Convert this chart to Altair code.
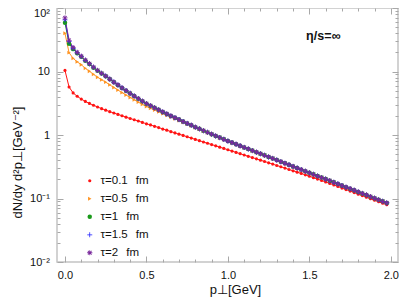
import altair as alt
import pandas as pd

# transverse momentum grid (GeV)
p_perp = [0.0, 0.025, 0.05, 0.075, 0.1, 0.125, 0.15, 0.175, 0.2, 0.225,
          0.25, 0.275, 0.3, 0.325, 0.35, 0.375, 0.4, 0.425, 0.45, 0.475,
          0.5, 0.525, 0.55, 0.575, 0.6, 0.625, 0.65, 0.675, 0.7, 0.725,
          0.75, 0.775, 0.8, 0.825, 0.85, 0.875, 0.9, 0.925, 0.95, 0.975,
          1.0, 1.025, 1.05, 1.075, 1.1, 1.125, 1.15, 1.175, 1.2, 1.225,
          1.25, 1.275, 1.3, 1.325, 1.35, 1.375, 1.4, 1.425, 1.45, 1.475,
          1.5, 1.525, 1.55, 1.575, 1.6, 1.625, 1.65, 1.675, 1.7, 1.725,
          1.75, 1.775, 1.8, 1.825, 1.85, 1.875, 1.9, 1.925, 1.95, 1.975]

tau_01 = [10.4, 5.70, 4.60, 4.07, 3.68, 3.38, 3.14, 2.94, 2.76, 2.60,
          2.46, 2.33, 2.22, 2.11, 2.01, 1.91, 1.82, 1.74, 1.66, 1.58,
          1.50, 1.44, 1.37, 1.31, 1.24, 1.19, 1.13, 1.08, 1.03, 0.984,
          0.938, 0.895, 0.853, 0.815, 0.776, 0.741, 0.706, 0.675, 0.643, 0.614,
          0.585, 0.558, 0.532, 0.508, 0.484, 0.462, 0.441, 0.421, 0.401, 0.383,
          0.365, 0.348, 0.331, 0.316, 0.301, 0.286, 0.273, 0.260, 0.248, 0.236,
          0.224, 0.213, 0.202, 0.192, 0.182, 0.173, 0.163, 0.155, 0.146, 0.138,
          0.131, 0.124, 0.117, 0.111, 0.105, 0.0993, 0.0940, 0.0889, 0.0841, 0.0796]

tau_05 = [40.0, 19.8, 16.1, 14.2, 12.8, 11.2, 10.1, 9.01, 8.11, 7.41,
          6.79, 6.16, 5.59, 5.10, 4.65, 4.25, 3.90, 3.58, 3.29, 3.03,
          2.81, 2.63, 2.47, 2.32, 2.17, 2.04, 1.91, 1.80, 1.69, 1.58,
          1.48, 1.40, 1.31, 1.24, 1.16, 1.09, 1.02, 0.958, 0.901, 0.846,
          0.796, 0.755, 0.712, 0.673, 0.635, 0.600, 0.566, 0.534, 0.505, 0.477,
          0.450, 0.425, 0.401, 0.378, 0.357, 0.337, 0.318, 0.300, 0.284, 0.268,
          0.253, 0.239, 0.225, 0.213, 0.201, 0.190, 0.179, 0.169, 0.159, 0.150,
          0.142, 0.134, 0.126, 0.119, 0.113, 0.106, 0.100, 0.0950, 0.0897, 0.0847]

tau_1 = [58.5, 27.4, 22.5, 19.3, 17.0, 14.8, 13.1, 11.5, 10.3, 9.28,
         8.41, 7.54, 6.77, 6.10, 5.50, 4.98, 4.51, 4.10, 3.73, 3.40,
         3.11, 2.89, 2.68, 2.49, 2.31, 2.15, 2.00, 1.87, 1.75, 1.63,
         1.52, 1.43, 1.33, 1.25, 1.17, 1.10, 1.03, 0.968, 0.910, 0.855,
         0.804, 0.759, 0.716, 0.676, 0.638, 0.603, 0.569, 0.537, 0.507, 0.479,
         0.452, 0.427, 0.403, 0.380, 0.359, 0.339, 0.320, 0.302, 0.285, 0.269,
         0.254, 0.240, 0.226, 0.214, 0.202, 0.191, 0.180, 0.170, 0.160, 0.151,
         0.143, 0.135, 0.127, 0.120, 0.114, 0.107, 0.101, 0.0955, 0.0902, 0.0851]

tau_15 = [65.0, 29.5, 23.2, 19.7, 17.3, 15.0, 13.2, 11.7, 10.4, 9.38,
          8.49, 7.60, 6.82, 6.14, 5.53, 5.00, 4.53, 4.11, 3.74, 3.41,
          3.12, 2.89, 2.68, 2.49, 2.31, 2.15, 2.00, 1.87, 1.75, 1.63,
          1.52, 1.43, 1.33, 1.25, 1.17, 1.10, 1.03, 0.968, 0.910, 0.855,
          0.804, 0.759, 0.716, 0.676, 0.638, 0.603, 0.569, 0.537, 0.507, 0.479,
          0.452, 0.427, 0.403, 0.380, 0.359, 0.339, 0.320, 0.302, 0.285, 0.269,
          0.254, 0.240, 0.226, 0.214, 0.202, 0.191, 0.180, 0.170, 0.160, 0.151,
          0.143, 0.135, 0.127, 0.120, 0.114, 0.107, 0.101, 0.0955, 0.0902, 0.0851]

tau_2 = [70.0, 30.9, 23.7, 20.0, 17.5, 15.1, 13.3, 11.7, 10.4, 9.38,
         8.49, 7.60, 6.82, 6.14, 5.53, 5.00, 4.53, 4.11, 3.74, 3.41,
         3.12, 2.89, 2.68, 2.49, 2.31, 2.15, 2.00, 1.87, 1.75, 1.63,
         1.52, 1.43, 1.33, 1.25, 1.17, 1.10, 1.03, 0.968, 0.910, 0.855,
         0.804, 0.759, 0.716, 0.676, 0.638, 0.603, 0.569, 0.537, 0.507, 0.479,
         0.452, 0.427, 0.403, 0.380, 0.359, 0.339, 0.320, 0.302, 0.285, 0.269,
         0.254, 0.240, 0.226, 0.214, 0.202, 0.191, 0.180, 0.170, 0.160, 0.151,
         0.143, 0.135, 0.127, 0.120, 0.114, 0.107, 0.101, 0.0955, 0.0902, 0.0851]

series_labels = ["τ=0.1\u2002\u2009fm", "τ=0.5\u2002\u2009fm", "τ=1\u2002\u2009fm",
                 "τ=1.5\u2002\u2009fm", "τ=2\u2002\u2009fm"]
series_values = [tau_01, tau_05, tau_1, tau_15, tau_2]
series_colors = ["#ff1414", "#ff9422", "#1a9a1a", "#1a1aff", "#7a2a9c"]
PLUS = ("M-1,-0.15L-0.15,-0.15L-0.15,-1L0.15,-1L0.15,-0.15L1,-0.15"
        "L1,0.15L0.15,0.15L0.15,1L-0.15,1L-0.15,0.15L-1,0.15Z")
ASTER = ("M-0.95,-0.15L-0.15,-0.15L-0.15,-0.95L0.15,-0.95L0.15,-0.15L0.95,-0.15"
         "L0.95,0.15L0.15,0.15L0.15,0.95L-0.15,0.95L-0.15,0.15L-0.95,0.15Z"
         "M-0.566,-0.778L0,-0.212L0.566,-0.778L0.778,-0.566L0.212,0L0.778,0.566"
         "L0.566,0.778L0,0.212L-0.566,0.778L-0.778,0.566L-0.212,0L-0.778,-0.566Z")
series_shapes = ["circle", "triangle-right", "circle", PLUS, ASTER]
series_sizes = [10, 30, 14, 38, 50]

x_ticks = [0, 0.1, 0.2, 0.3, 0.4, 0.5, 0.6, 0.7, 0.8, 0.9, 1, 1.1, 1.2, 1.3,
           1.4, 1.5, 1.6, 1.7, 1.8, 1.9, 2]
y_ticks = [0.01, 0.02, 0.03, 0.04, 0.05, 0.06, 0.07, 0.08, 0.09,
           0.1, 0.2, 0.3, 0.4, 0.5, 0.6, 0.7, 0.8, 0.9,
           1, 2, 3, 4, 5, 6, 7, 8, 9,
           10, 20, 30, 40, 50, 60, 70, 80, 90, 100]

annot_text = ["η/s=∞"]
annot_x = [1.585]
annot_y = [36.7]

rows = []
for lab, col, vals in zip(series_labels, series_colors, series_values):
    assert len(vals) == len(p_perp)
    for x, v in zip(p_perp, vals):
        rows.append({"p": x, "v": v, "series": lab, "col": col})
df = pd.DataFrame(rows)
df_annot = pd.DataFrame({"t": annot_text, "x": annot_x, "y": annot_y})

FONT = "Liberation Sans"
TICK_COLOR = "#a8a8a8"
X_MAJOR = "indexof([0,0.5,1,1.5,2], datum.value) >= 0"
Y_MAJOR = "indexof([0.01,0.1,1,10,100], datum.value) >= 0"
x_tick_size = {"expr": f"{X_MAJOR} ? -6 : -3"}
y_tick_size = {"expr": f"{Y_MAJOR} ? -6 : -3"}

x_scale = alt.Scale(domain=[-0.049, 2.044], nice=False, zero=False)
y_scale = alt.Scale(type="log", domain=[0.01, 100], nice=False)

y_label_expr = ("datum.value == 100 ? '10²' : datum.value == 10 ? '10' : "
                "datum.value == 1 ? '1' : datum.value == 0.1 ? '10⁻¹' : "
                "datum.value == 0.01 ? '10⁻²' : ''")

x_axis_bottom = alt.Axis(
    orient="bottom", values=x_ticks, tickSize=x_tick_size, tickColor=TICK_COLOR,
    tickWidth=1, domain=False, grid=False, labelOverlap=False, labelFlush=False,
    labelExpr=f"{X_MAJOR} ? format(datum.value, '.1f') : ''",
    labelPadding=13, labelFont=FONT, labelFontSize=11, labelColor="#111",
    title="p⊥[GeV]", titleFont=FONT, titleFontSize=13, titleFontWeight="normal",
    titleColor="#111", titleX=178, titleY=27, titleBaseline="middle", titleAlign="center")
y_axis_left = alt.Axis(
    orient="left", values=y_ticks, tickSize=y_tick_size, tickColor=TICK_COLOR,
    tickWidth=1, domain=False, grid=False, labelOverlap=False, labelFlush=False,
    labelExpr=y_label_expr, labelOffset={"expr": "datum.value >= 99 ? 5 : 0"},
    labelPadding=13.5, labelFont=FONT, labelFontSize=11, labelColor="#111",
    title="dN/dy d²p⊥[GeV⁻²]", titleFont=FONT, titleFontSize=13,
    titleFontWeight="normal", titleColor="#111", titleX=-40, titleY=154,
    titleBaseline="middle", titleAlign="center", titleAngle=270)
x_axis_top = alt.Axis(
    orient="top", values=x_ticks, tickSize=x_tick_size, tickColor=TICK_COLOR,
    tickWidth=1, domain=False, grid=False, labels=False, title=None)
y_axis_right = alt.Axis(
    orient="right", values=y_ticks, tickSize=y_tick_size, tickColor=TICK_COLOR,
    tickWidth=1, domain=False, grid=False, labels=False, title=None)

legend = alt.Legend(
    title=None, orient="none", legendX=27, legendY=167, padding=0, rowPadding=5,
    labelOffset=5, labelFont=FONT, labelFontSize=11.5, labelColor="#111")

lines = alt.Chart(df).mark_line(strokeWidth=1, clip=True).encode(
    x=alt.X("p:Q", scale=x_scale, axis=x_axis_bottom),
    y=alt.Y("v:Q", scale=y_scale, axis=y_axis_left),
    color=alt.Color("col:N", scale=None),
    detail="series:N",
    order=alt.Order("p:Q"),
)

points = alt.Chart(df).mark_point(filled=True, strokeWidth=0, opacity=1, clip=True).encode(
    x=alt.X("p:Q", scale=x_scale, axis=x_axis_top),
    y=alt.Y("v:Q", scale=y_scale, axis=y_axis_right),
    color=alt.Color("series:N", scale=alt.Scale(domain=series_labels, range=series_colors), legend=legend),
    shape=alt.Shape("series:N", scale=alt.Scale(domain=series_labels, range=series_shapes), legend=legend),
    size=alt.Size("series:N", scale=alt.Scale(domain=series_labels, range=series_sizes), legend=legend),
)

annot = alt.Chart(df_annot).mark_text(font=FONT, fontSize=12.5, fontWeight="bold", color="#111").encode(
    x=alt.X("x:Q", scale=x_scale, axis=None),
    y=alt.Y("y:Q", scale=y_scale, axis=None),
    text="t:N",
)

chart = alt.layer(lines, points, annot).resolve_axis(
    x="independent", y="independent"
).properties(
    width=341, height=254,
    autosize=alt.AutoSizeParams(type="none"),
    padding={"left": 49, "top": 0, "right": 1, "bottom": 35},
).configure_view(stroke="#c4c4c4", strokeWidth=1.5)

chart.save("out.html", embed_options={"renderer": "svg", "actions": False})
